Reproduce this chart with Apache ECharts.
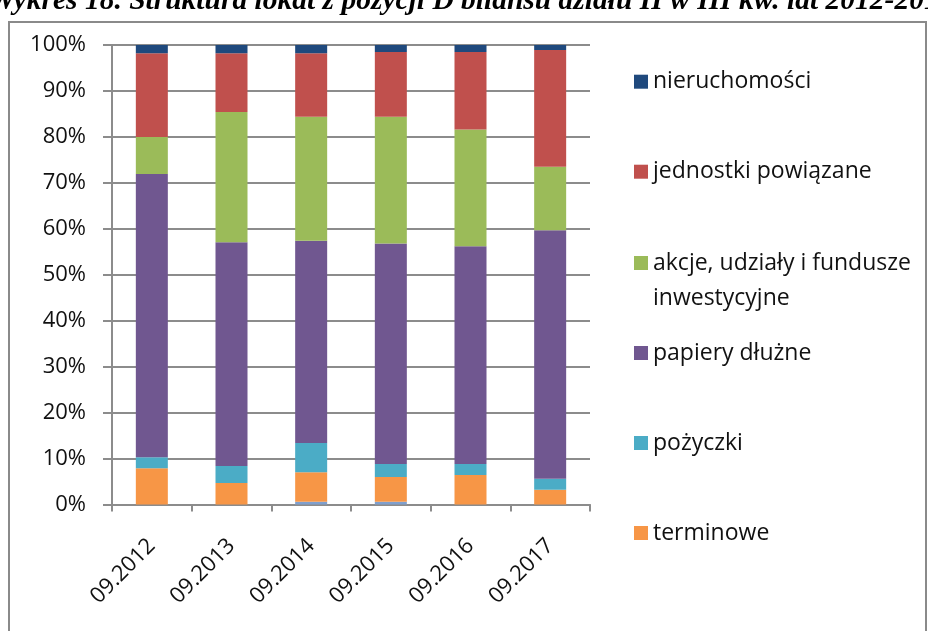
<!DOCTYPE html>
<html>
<head>
<meta charset="utf-8">
<script src="https://cdn.jsdelivr.net/npm/echarts@6/dist/echarts.min.js"></script>
<style>
html,body{margin:0;padding:0;background:#fff;}
#chart{width:928px;height:631px;}
</style>
</head>
<body>
<div id="chart"></div>
<script>
var categories = ['09.2012','09.2013','09.2014','09.2015','09.2016','09.2017'];
var yTicks = [0,10,20,30,40,50,60,70,80,90,100];
var inne = [0, 0, 0.6, 0.6, 0, 0];
var terminowe = [7.9, 4.7, 6.4, 5.4, 6.4, 3.2];
var pozyczki = [2.4, 3.7, 6.4, 2.8, 2.4, 2.4];
var papiery = [61.6, 48.7, 44.0, 48.0, 47.4, 54.1];
var akcje = [8.1, 28.3, 27.0, 27.6, 25.4, 13.8];
var jednostki = [18.2, 12.8, 13.8, 14.1, 16.9, 25.4];
var nieruchomosci = [1.8, 1.8, 1.8, 1.5, 1.5, 1.1];

var names = {
  inne: 'inne',
  term: 'terminowe',
  poz: 'pożyczki',
  pap: 'papiery dłużne',
  akc: 'akcje, udziały i fundusze inwestycyjne',
  jed: 'jednostki powiązane',
  nie: 'nieruchomości'
};
var colors = {
  inne: '#7f9fcd',
  term: '#F79646',
  poz: '#4BACC6',
  pap: '#705790',
  akc: '#9BBB59',
  jed: '#C0504D',
  nie: '#1F497D'
};

var FONT = 'Open Sans';
function bar(key, data) {
  return {
    name: names[key], type: 'bar', stack: 'total', data: data,
    barWidth: 32,
    itemStyle: { color: colors[key] },
    emphasis: { disabled: true }
  };
}

function legendItem(key, top, extra) {
  var ts = { fontFamily: FONT, fontSize: 23, color: '#111', lineHeight: 30 };
  if (extra) { for (var k in extra) ts[k] = extra[k]; }
  return {
    data: [names[key]], left: 634, top: top, orient: 'vertical', padding: 0,
    icon: 'rect', itemWidth: 14, itemHeight: 14, itemGap: 0,
    selectedMode: false, textStyle: ts,
    formatter: function (n) { return n === names.akc ? '\u00a0\nakcje, udziały i fundusze\ninwestycyjne' : n; }
  };
}

var chart = echarts.init(document.getElementById('chart'));
chart.setOption({
  animation: false,
  backgroundColor: '#fff',
  graphic: [
    { type: 'rect', shape: { x: 9, y: 22, width: 917, height: 640 },
      style: { fill: 'none', stroke: '#8a8a8a', lineWidth: 2 }, silent: true },
    { type: 'text', x: -11, y: 16,
      style: { text: 'Wykres 18. Struktura lokat z pozycji D bilansu działu II w III kw. lat 2012-2017',
        font: 'italic bold 29.5px "Liberation Serif"', fill: '#000', verticalAlign: 'bottom' } }
  ],
  grid: { left: 112, right: 338, top: 45, bottom: 126.5, containLabel: false },
  legend: [
    legendItem('nie', 81.7 - 15),
    legendItem('jed', 171.7 - 15),
    legendItem('akc', 263 - 52.5, { lineHeight: 35 }),
    legendItem('pap', 353 - 15),
    legendItem('poz', 443 - 15),
    legendItem('term', 533 - 15)
  ],
  xAxis: {
    type: 'category', data: categories,
    axisLine: { lineStyle: { color: '#8c8c8c', width: 2 } },
    axisTick: { show: true, length: 7, lineStyle: { color: '#8c8c8c', width: 2 } },
    axisLabel: { rotate: 45, margin: 38, fontFamily: FONT, fontSize: 22, color: '#111' },
    splitLine: { show: false }
  },
  yAxis: {
    type: 'value', min: yTicks[0], max: yTicks[yTicks.length - 1], interval: 10,
    axisLine: { show: true, lineStyle: { color: '#8c8c8c', width: 2 } },
    axisTick: { show: true, inside: false, length: 9, lineStyle: { color: '#8c8c8c', width: 2 } },
    axisLabel: { margin: 26, fontFamily: FONT, fontSize: 22, color: '#111', formatter: '{value}%' },
    splitLine: { show: true, lineStyle: { color: '#8c8c8c', width: 2 } }
  },
  series: [
    bar('inne', inne),
    bar('term', terminowe),
    bar('poz', pozyczki),
    bar('pap', papiery),
    bar('akc', akcje),
    bar('jed', jednostki),
    bar('nie', nieruchomosci)
  ]
});
</script>
</body>
</html>
